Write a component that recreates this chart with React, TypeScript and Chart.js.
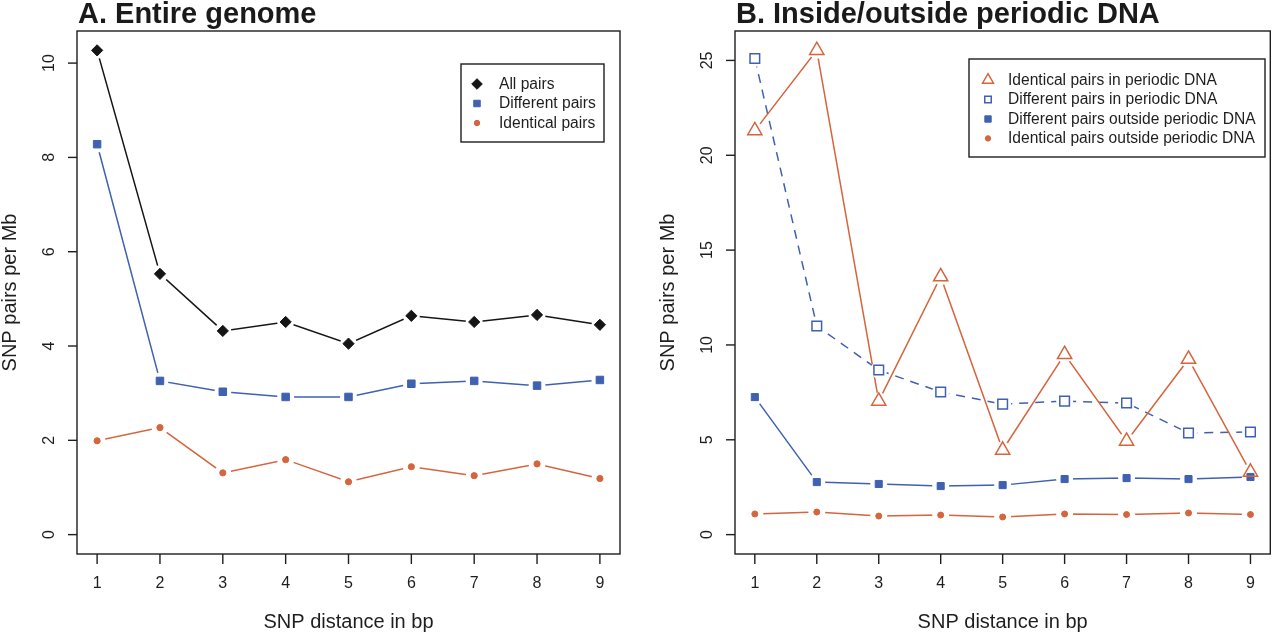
import React, { useEffect, useRef } from 'react';
import { Chart, registerables } from 'chart.js';
import { drawPoint } from 'chart.js/helpers';

Chart.register(...registerables);

// ---------- data ----------
const distances = [1, 2, 3, 4, 5, 6, 7, 8, 9];
const xTickLabels = ['1', '2', '3', '4', '5', '6', '7', '8', '9'];

// Panel A: entire genome
const allPairsA = [10.27, 5.53, 4.32, 4.51, 4.05, 4.64, 4.51, 4.66, 4.45];
const differentPairsA = [8.28, 3.26, 3.03, 2.92, 2.92, 3.2, 3.26, 3.16, 3.28];
const identicalPairsA = [1.99, 2.27, 1.31, 1.59, 1.12, 1.44, 1.25, 1.5, 1.19];
const yTicksA = [0, 2, 4, 6, 8, 10];

// Panel B: inside / outside periodic DNA
const identicalInPeriodic = [21.3, 25.53, 7.04, 13.6, 4.46, 9.5, 4.93, 9.25, 3.3];
const differentInPeriodic = [25.1, 11.0, 8.68, 7.52, 6.88, 7.04, 6.94, 5.36, 5.41];
const differentOutside = [7.25, 2.77, 2.67, 2.56, 2.61, 2.93, 2.98, 2.93, 3.04];
const identicalOutside = [1.09, 1.19, 0.98, 1.03, 0.93, 1.09, 1.06, 1.14, 1.06];
const yTicksB = [0, 5, 10, 15, 20, 25];

const titleA = 'A. Entire genome';
const titleB = 'B. Inside/outside periodic DNA';
const xTitle = 'SNP distance in bp';
const yTitle = 'SNP pairs per Mb';

// ---------- styles ----------
const BLACK = '#151515';
const BLUE = '#3f61b0';
const ORANGE = '#d4653d';
const FONT = '"Liberation Sans", Arial, Helvetica, sans-serif';

type Series = {
  label: string;
  values: number[];
  color: string;
  pointStyle: string;
  radius: number;
  legendRadius: number;
  filled: boolean;
  borderWidth: number;
  dash?: number[];
};

const seriesA: Series[] = [
  { label: 'All pairs', values: allPairsA, color: BLACK, pointStyle: 'rectRot', radius: 5.6, legendRadius: 5.3, filled: true, borderWidth: 1 },
  { label: 'Different pairs', values: differentPairsA, color: BLUE, pointStyle: 'rect', radius: 5.3, legendRadius: 4.6, filled: true, borderWidth: 1 },
  { label: 'Identical pairs', values: identicalPairsA, color: ORANGE, pointStyle: 'circle', radius: 3.1, legendRadius: 2.7, filled: true, borderWidth: 1 },
];

const seriesB: Series[] = [
  { label: 'Identical pairs in periodic DNA', values: identicalInPeriodic, color: ORANGE, pointStyle: 'triangle', radius: 8.2, legendRadius: 6.3, filled: false, borderWidth: 1.5 },
  { label: 'Different pairs in periodic DNA', values: differentInPeriodic, color: BLUE, pointStyle: 'rect', radius: 6.8, legendRadius: 4.6, filled: false, borderWidth: 1.5, dash: [9, 7] },
  { label: 'Different pairs outside periodic DNA', values: differentOutside, color: BLUE, pointStyle: 'rect', radius: 5.0, legendRadius: 4.5, filled: true, borderWidth: 1 },
  { label: 'Identical pairs outside periodic DNA', values: identicalOutside, color: ORANGE, pointStyle: 'circle', radius: 3.0, legendRadius: 2.7, filled: true, borderWidth: 1 },
];

type PanelCfg = {
  left: number;
  title: string;
  series: Series[];
  yTicks: number[];
  padding: { left: number; right: number; top: number; bottom: number };
  legend: { x0: number; y0: number; x1: number; y1: number; markerX: number; textX: number; rows: number[] };
};

const panelA: PanelCfg = {
  left: 0,
  title: titleA,
  series: seriesA,
  yTicks: yTicksA,
  padding: { left: 77, right: 20, top: 31, bottom: 79 },
  legend: { x0: 461, y0: 64, x1: 604, y1: 142, markerX: 477, textX: 499, rows: [84, 103.5, 123] },
};

const panelB: PanelCfg = {
  left: 640,
  title: titleB,
  series: seriesB,
  yTicks: yTicksB,
  padding: { left: 95, right: 1, top: 31, bottom: 79 },
  legend: { x0: 329, y0: 59, x1: 625, y1: 157, markerX: 348, textX: 368, rows: [80, 99.4, 119, 138.4] },
};

function makePlugin(cfg: PanelCfg) {
  return {
    id: 'rStyle',
    afterDraw(chart: any) {
      const ctx: CanvasRenderingContext2D = chart.ctx;
      const area = chart.chartArea;
      const xs = chart.scales.x;
      const ys = chart.scales.y;
      ctx.save();
      ctx.strokeStyle = '#1e1e1e';
      ctx.fillStyle = '#1e1e1e';
      ctx.lineWidth = 1.4;
      // box
      ctx.strokeRect(area.left, area.top, area.right - area.left, area.bottom - area.top);
      // x ticks
      ctx.font = `16px ${FONT}`;
      ctx.textAlign = 'center';
      ctx.textBaseline = 'middle';
      distances.forEach((d, i) => {
        const px = xs.getPixelForValue(d);
        ctx.beginPath();
        ctx.moveTo(px, area.bottom);
        ctx.lineTo(px, area.bottom + 10);
        ctx.stroke();
        ctx.fillText(xTickLabels[i], px, area.bottom + 30);
      });
      // y ticks
      cfg.yTicks.forEach((v) => {
        const py = ys.getPixelForValue(v);
        ctx.beginPath();
        ctx.moveTo(area.left - 9, py);
        ctx.lineTo(area.left, py);
        ctx.stroke();
        ctx.save();
        ctx.translate(area.left - 27, py);
        ctx.rotate(-Math.PI / 2);
        ctx.textAlign = 'center';
        ctx.textBaseline = 'middle';
        ctx.fillText(String(v), 0, 0);
        ctx.restore();
      });
      // axis titles
      ctx.font = `20px ${FONT}`;
      ctx.textAlign = 'center';
      ctx.textBaseline = 'alphabetic';
      ctx.fillText(xTitle, (area.left + area.right) / 2, area.bottom + 74);
      ctx.save();
      ctx.translate(area.left - 61, (area.top + area.bottom) / 2);
      ctx.rotate(-Math.PI / 2);
      ctx.fillText(yTitle, 0, 0);
      ctx.restore();
      // main title
      ctx.font = `bold 29px ${FONT}`;
      ctx.textAlign = 'left';
      ctx.fillStyle = '#1a1a1a';
      ctx.fillText(cfg.title, area.left + 1, 23);
      // legend
      const lg = cfg.legend;
      ctx.fillStyle = '#ffffff';
      ctx.fillRect(lg.x0, lg.y0, lg.x1 - lg.x0, lg.y1 - lg.y0);
      ctx.strokeStyle = '#1e1e1e';
      ctx.lineWidth = 1.4;
      ctx.strokeRect(lg.x0, lg.y0, lg.x1 - lg.x0, lg.y1 - lg.y0);
      cfg.series.forEach((s, i) => {
        const y = lg.rows[i];
        ctx.save();
        ctx.fillStyle = s.filled ? s.color : '#ffffff';
        ctx.strokeStyle = s.color;
        ctx.lineWidth = s.borderWidth;
        drawPoint(ctx, { pointStyle: s.pointStyle as any, radius: s.legendRadius, borderWidth: s.borderWidth, rotation: 0 }, lg.markerX, y);
        ctx.restore();
        ctx.fillStyle = '#1e1e1e';
        ctx.font = `15.6px ${FONT}`;
        ctx.textAlign = 'left';
        ctx.textBaseline = 'middle';
        ctx.fillText(s.label, lg.textX, y + 0.5);
      });
      ctx.restore();
    },
  };
}

function Panel({ cfg }: { cfg: PanelCfg }) {
  const ref = useRef<HTMLCanvasElement | null>(null);
  useEffect(() => {
    if (!ref.current) return;
    const all = cfg.series.flatMap((s) => s.values);
    const yMaxData = Math.max(0, ...all);
    const yMinData = Math.min(0, ...all);
    const ext = 0.04 * (yMaxData - yMinData);
    const xExt = 0.04 * (distances[distances.length - 1] - distances[0]);
    const pts = (vals: number[]) => distances.map((d, i) => ({ x: d, y: vals[i] }));

    const lineSets = cfg.series.map((s) => ({
      label: s.label,
      data: pts(s.values),
      borderColor: s.color,
      borderWidth: 1.5,
      borderDash: s.dash || [],
      pointRadius: 0,
      fill: false,
      tension: 0,
      order: 3,
    }));
    const haloSets = cfg.series.map((s) => ({
      label: s.label + ' halo',
      data: pts(s.values),
      showLine: false,
      pointRadius: 8.5,
      pointStyle: 'circle',
      pointBackgroundColor: '#ffffff',
      pointBorderWidth: 0,
      pointBorderColor: '#ffffff',
      order: 2,
    }));
    const markerSets = cfg.series.map((s) => ({
      label: s.label + ' markers',
      data: pts(s.values),
      showLine: false,
      pointRadius: s.radius,
      pointStyle: s.pointStyle,
      pointBackgroundColor: s.filled ? s.color : 'rgba(255,255,255,0)',
      pointBorderColor: s.color,
      pointBorderWidth: s.borderWidth,
      order: 1,
    }));

    const chart = new Chart(ref.current, {
      type: 'line',
      data: { datasets: [...lineSets, ...haloSets, ...markerSets] as any },
      options: {
        responsive: false,
        animation: false,
        devicePixelRatio: 1,
        events: [],
        layout: { padding: cfg.padding },
        plugins: { legend: { display: false }, tooltip: { enabled: false } },
        scales: {
          x: { type: 'linear', min: distances[0] - xExt, max: distances[distances.length - 1] + xExt, display: false },
          y: { type: 'linear', min: yMinData - ext, max: yMaxData + ext, display: false },
        },
      } as any,
      plugins: [makePlugin(cfg)],
    });
    return () => chart.destroy();
  }, [cfg]);
  return (
    <canvas
      ref={ref}
      width={640}
      height={633}
      style={{ position: 'absolute', left: cfg.left, top: 0, width: 640, height: 633 }}
    />
  );
}

export default function App() {
  return (
    <div style={{ position: 'fixed', left: 0, top: 0, width: 1280, height: 633, background: '#ffffff', overflow: 'hidden' }}>
      <Panel cfg={panelA} />
      <Panel cfg={panelB} />
    </div>
  );
}
